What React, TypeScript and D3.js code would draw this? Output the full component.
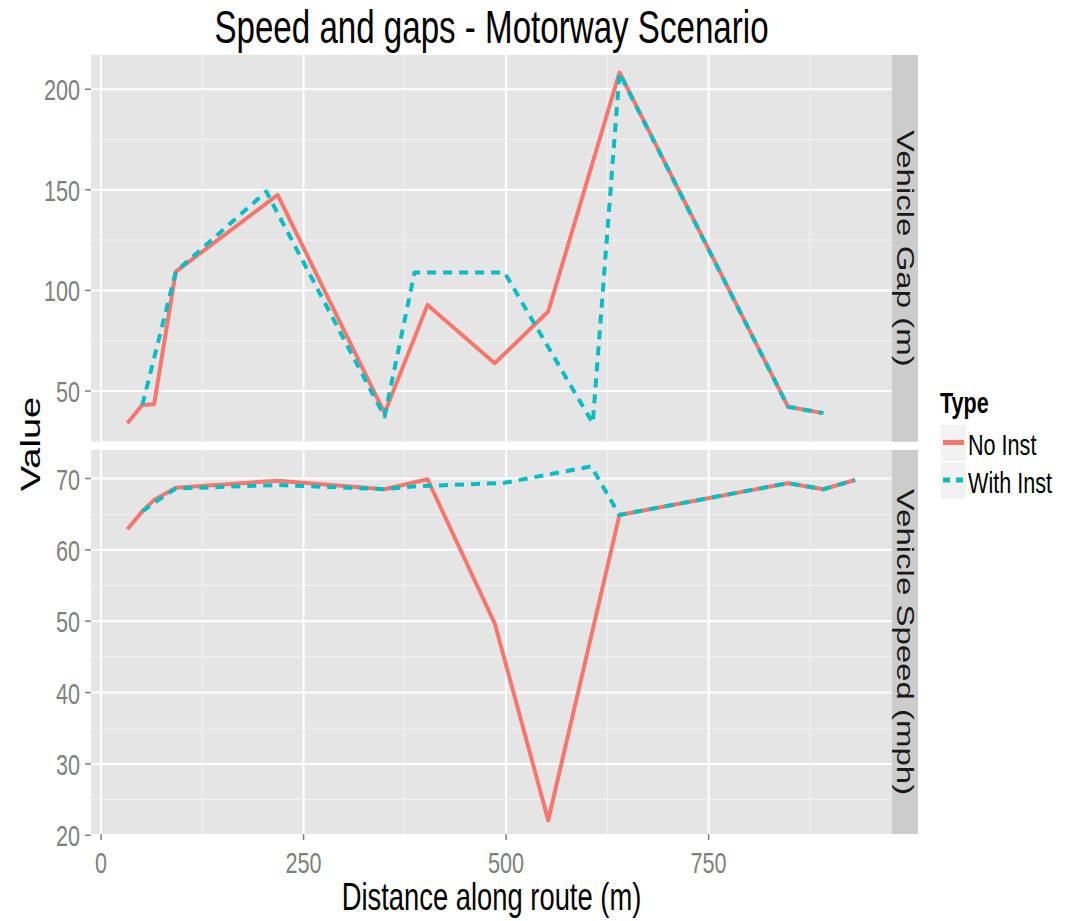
import React from 'react';
import * as d3 from 'd3';

// distance along route (m) and values
const gapNoInstX = [32.5, 51, 65.5, 92.3, 218, 350, 403, 486, 552, 640, 848, 891.6];
const gapNoInst = [34.0, 43.1, 43.4, 109.3, 147.5, 39.0, 92.8, 63.8, 89.5, 208.3, 42.2, 39.0];
const gapWithInstX = [51, 92.3, 204, 350, 387, 498, 607, 640, 848, 891.6];
const gapWithInst = [43.1, 109.3, 149.1, 37.3, 108.9, 108.9, 34.0, 208, 42.2, 39.0];

const speedNoInstX = [32.5, 51, 65.5, 92.3, 218, 350, 403, 486, 552, 640, 848, 891.6, 930.8];
const speedNoInst = [62.9, 65.4, 67.0, 68.7, 69.7, 68.5, 69.9, 49.7, 22.1, 64.9, 69.35, 68.5, 69.8];
const speedWithInstX = [51, 65.5, 92.3, 218, 350, 387, 498, 605, 640, 848, 891.6, 930.8];
const speedWithInst = [65.4, 66.6, 68.6, 69.1, 68.5, 68.9, 69.4, 71.7, 64.9, 69.35, 68.5, 69.8];

const xTicks = [0, 250, 500, 750];
const xMinor = [125, 375, 625, 875];
const gapTicks = [50, 100, 150, 200];
const gapMinor = [25, 75, 125, 175];
const speedTicks = [20, 30, 40, 50, 60, 70];
const speedMinor = [25, 35, 45, 55, 65];

const seriesNames = ['No Inst', 'With Inst'];
const colors = ['#F8766D', '#00BFC4'];

const W = 1066;
const H = 921;
const SX = 0.72; // the reference is horizontally compressed
const FONT = 'Liberation Sans, Arial, Helvetica, sans-serif';

const pLeft = 91;
const pRight = 892;
const stripW = 26;

const x = d3.scaleLinear().domain([-12.4, 976.4]).range([pLeft, pRight]);

const panels = [
  {
    label: 'Vehicle Gap (m)',
    top: 55, bottom: 441.7,
    domain: [24.8, 217.0],
    ticks: gapTicks, minor: gapMinor,
    series: [
      { xs: gapNoInstX, ys: gapNoInst },
      { xs: gapWithInstX, ys: gapWithInst },
    ],
  },
  {
    label: 'Vehicle Speed (mph)',
    top: 450, bottom: 834,
    domain: [20.17, 74.0],
    ticks: speedTicks, minor: speedMinor,
    series: [
      { xs: speedNoInstX, ys: speedNoInst },
      { xs: speedWithInstX, ys: speedWithInst },
    ],
  },
];

const T = ({ x: tx, y: ty, rot = 0, size, anchor = 'start', color = '#000', weight = 'normal', children, baseline = 'auto' }: any) => {
  const tr = rot === 0
    ? `translate(${tx},${ty}) scale(${SX},1)`
    : `translate(${tx},${ty}) rotate(${rot}) scale(1,${SX})`;
  return (
    <text transform={tr} fontSize={size} textAnchor={anchor} fill={color}
      fontWeight={weight} dominantBaseline={baseline} fontFamily={FONT}>
      {children}
    </text>
  );
};

export default function App() {
  return (
    <svg width={W} height={H} style={{ position: 'absolute', left: 0, top: 0, background: '#fff' }}>
      {panels.map((p, pi) => {
        const y = d3.scaleLinear().domain(p.domain).range([p.bottom, p.top]);
        const line = d3.line<[number, number]>().x(d => x(d[0])).y(d => y(d[1]));
        const cy = (p.top + p.bottom) / 2;
        return (
          <g key={pi}>
            <rect x={pLeft} y={p.top} width={pRight - pLeft} height={p.bottom - p.top} fill="#E5E5E5" />
            {p.minor.filter(v => y(v) > p.top && y(v) < p.bottom).map(v => (
              <line key={'hm' + v} x1={pLeft} x2={pRight} y1={y(v)} y2={y(v)} stroke="#F2F2F2" strokeWidth={1} />
            ))}
            {xMinor.map(v => (
              <line key={'vm' + v} x1={x(v)} x2={x(v)} y1={p.top} y2={p.bottom} stroke="#F2F2F2" strokeWidth={1} />
            ))}
            {p.ticks.map(v => (
              <line key={'h' + v} x1={pLeft} x2={pRight} y1={y(v)} y2={y(v)} stroke="#fff" strokeWidth={2} />
            ))}
            {xTicks.map(v => (
              <line key={'v' + v} x1={x(v)} x2={x(v)} y1={p.top} y2={p.bottom} stroke="#fff" strokeWidth={2} />
            ))}
            {p.series.map((s, si) => (
              <path key={si} d={line(s.xs.map((xv, i) => [xv, s.ys[i]]) as [number, number][]) || ''}
                fill="none" stroke={colors[si]} strokeWidth={4}
                strokeDasharray={si === 1 ? '9,7' : undefined} strokeLinejoin="round" />
            ))}
            {/* y axis */}
            {p.ticks.map(v => (
              <g key={'yt' + v}>
                <line x1={pLeft - 6} x2={pLeft} y1={y(v)} y2={y(v)} stroke="#7F7F7F" strokeWidth={1.5} />
                <T x={80} y={y(v) + 11} size={30} anchor="end" color="#7F7F7F">{v}</T>
              </g>
            ))}
            {/* strip */}
            <rect x={pRight} y={p.top} width={stripW} height={p.bottom - p.top} fill="#CCCCCC" />
            <T x={pRight + stripW / 2} y={cy} rot={90} size={33} anchor="middle" baseline="central" color="#1A1A1A">{p.label}</T>
          </g>
        );
      })}
      {/* x axis */}
      {xTicks.map(v => (
        <g key={'xt' + v}>
          <line x1={x(v)} x2={x(v)} y1={834} y2={840} stroke="#7F7F7F" strokeWidth={1.5} />
          <T x={x(v)} y={873} size={30} anchor="middle" color="#7F7F7F">{v}</T>
        </g>
      ))}
      <T x={(pLeft + pRight) / 2} y={910} size={38} anchor="middle">Distance along route (m)</T>
      <T x={30} y={444} rot={-90} size={38} anchor="middle" baseline="central">Value</T>
      <T x={(pLeft + pRight) / 2} y={43} size={46} anchor="middle">Speed and gaps - Motorway Scenario</T>
      {/* legend */}
      <T x={940} y={413} size={30} weight="bold">Type</T>
      {seriesNames.map((n, i) => {
        const top = 425 + i * 37.5;
        return (
          <g key={n}>
            <rect x={941} y={top} width={25} height={36} fill="#F2F2F2" />
            <line x1={943} x2={964} y1={top + 17.5} y2={top + 17.5} stroke={colors[i]} strokeWidth={5}
              strokeDasharray={i === 1 ? '7,6' : undefined} />
            <T x={968} y={top + 30} size={30}>{n}</T>
          </g>
        );
      })}
    </svg>
  );
}
